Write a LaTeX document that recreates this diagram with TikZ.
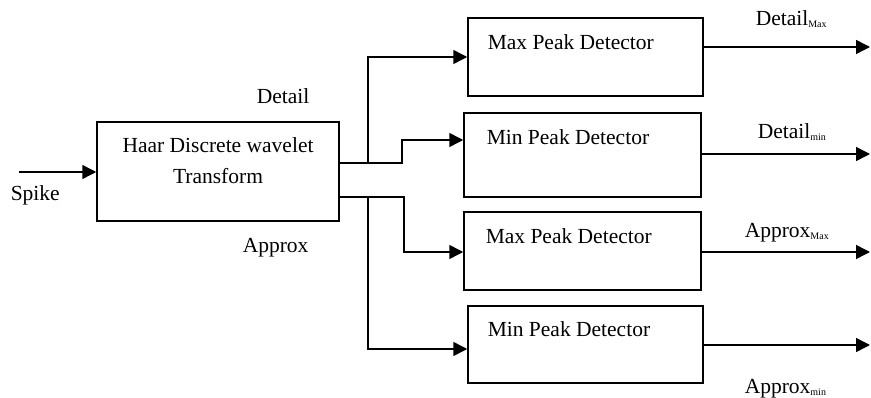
\documentclass[tikz,border=0pt]{standalone}
\usepackage{fontspec}
\setmainfont{Liberation Serif}
\usetikzlibrary{arrows.meta}
\newcommand{\subsc}[1]{\raisebox{-2pt}{\fontsize{10}{12}\selectfont #1}}
\begin{document}
\begin{tikzpicture}[x=1pt,y=-1pt,line width=1.5pt,
  blk/.style={draw,rectangle,line width=1.5pt,inner sep=0pt},
  arr/.style={-{Triangle[length=14pt,width=14pt]}},
  txt/.style={inner sep=0pt,font=\fontsize{21.5}{24}\selectfont,anchor=base west},
  ctxt/.style={inner sep=0pt,font=\fontsize{21.5}{24}\selectfont,anchor=base}]
\useasboundingbox (0,0) rectangle (871,398);
% blocks
\node[blk,minimum width=242pt,minimum height=99pt] (hdwt) at (218,171.5) {};
\node[blk,minimum width=235pt,minimum height=78pt] (max1) at (585.5,57) {};
\node[blk,minimum width=237pt,minimum height=84pt] (min1) at (582.5,155) {};
\node[blk,minimum width=237pt,minimum height=78pt] (max2) at (582.5,251) {};
\node[blk,minimum width=235pt,minimum height=77pt] (min2) at (585.5,344.5) {};
% block texts
\node[ctxt] (t1) at (218,153) {Haar Discrete wavelet};
\node[ctxt] (t2) at (218,184) {Transform};
\node[txt] (tmax1) at (487,50) {Max Peak Detector};
\node[txt] (tmin1) at (486,145) {Min Peak Detector};
\node[txt] (tmax2) at (485,244) {Max Peak Detector};
\node[txt] (tmin2) at (487,337) {Min Peak Detector};
% labels
\node[txt] (lspike) at (10,201) {Spike};
\node[txt] (ldet) at (256,104) {Detail};
\node[txt] (lapp) at (242,253) {Approx};
\node[txt] (ldmax) at (755,26) {Detail\subsc{Max}};
\node[txt] (ldmin) at (757,139) {Detail\subsc{min}};
\node[txt] (lamax) at (744,238) {Approx\subsc{Max}};
\node[txt] (lamin) at (744,393) {Approx\subsc{min}};
% coordinates
\coordinate (sp) at (19,172);
\coordinate (dout) at (339,163);
\coordinate (aout) at (339,197);
\coordinate (dj) at (368,163);
\coordinate (aj) at (368,197);
\coordinate (o1) at (870,47);
\coordinate (o2) at (870,154);
\coordinate (o3) at (870,252);
\coordinate (o4) at (870,345);
% connectors
\draw[arr] (sp) -- (hdwt.west |- sp);
\draw (dout) -- (dj);
\draw[arr] (dj) |- (max1.west);
\draw[arr] (dj) -- (402,163) |- (min1.west |- 0,140);
\draw (aout) -- (aj);
\draw[arr] (aj) -- (404,197) |- (max2.west |- 0,252);
\draw[arr] (aj) |- (min2.west |- 0,349);
\draw[arr] (max1.east |- o1) -- (o1);
\draw[arr] (min1.east |- o2) -- (o2);
\draw[arr] (max2.east |- o3) -- (o3);
\draw[arr] (min2.east |- o4) -- (o4);
\end{tikzpicture}
\end{document}
